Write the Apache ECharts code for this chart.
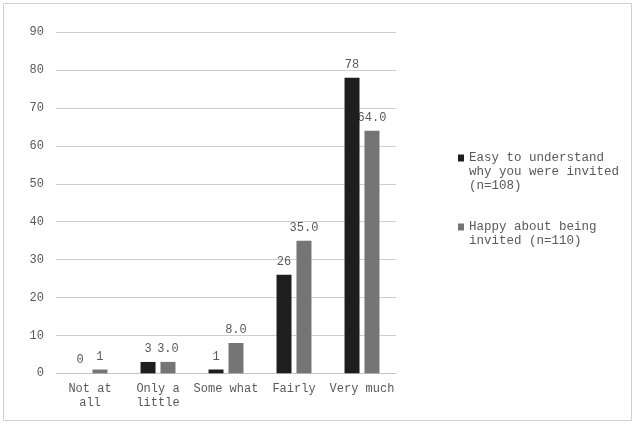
<!DOCTYPE html>
<html><head><meta charset="utf-8">
<script src="https://cdn.jsdelivr.net/npm/echarts@6/dist/echarts.min.js"></script>
<style>html,body{margin:0;padding:0;background:#fff}#c{width:634px;height:426px}</style>
</head><body><div id="c"></div>
<script>
const categories = ['Not at\nall', 'Only a\nlittle', 'Some what', 'Fairly', 'Very much'];
const seriesNames = ['Easy to understand\nwhy you were invited\n(n=108)', 'Happy about being\ninvited (n=110)'];
const easyValues = [0, 3, 1, 26, 78];
const happyValues = [1, 3, 8, 35, 64];
const easyLabels = ['0', '3', '1', '26', '78'];
const happyLabels = ['1', '3.0', '8.0', '35.0', '64.0'];
const yMin = 0, yMax = 90, yStep = 10;

const FONT = 'Liberation Mono';
const TXT = '#595959';
const chart = echarts.init(document.getElementById('c'));
chart.setOption({
  animation: false,
  textStyle: {fontFamily: FONT},
  graphic: [{type: 'rect', shape: {x: 3.5, y: 3.5, width: 628, height: 417}, style: {fill: 'none', stroke: '#d0d0d0', lineWidth: 1}}],
  grid: {left: 56, right: 238, top: 32.3, bottom: 52.7, containLabel: false},
  legend: {
    orient: 'vertical', left: 458, top: 123, padding: 0, itemGap: 13,
    icon: 'rect', itemWidth: 6, itemHeight: 7, selectedMode: false,
    textStyle: {fontFamily: FONT, fontSize: 12.5, color: TXT, lineHeight: 14},
    formatter: name => '\n'.repeat(name.split('\n').length - 1) + name,
    data: seriesNames
  },
  xAxis: {
    type: 'category', data: categories,
    axisTick: {show: false},
    axisLine: {lineStyle: {color: '#c4c4c4'}},
    axisLabel: {color: TXT, fontFamily: FONT, fontSize: 12, lineHeight: 14, margin: 9, interval: 0}
  },
  yAxis: {
    type: 'value', min: yMin, max: yMax, interval: yStep,
    axisLine: {show: false}, axisTick: {show: false},
    splitLine: {lineStyle: {color: '#cfcfcf'}},
    axisLabel: {color: TXT, fontFamily: FONT, fontSize: 12, margin: 12}
  },
  series: [
    {
      name: seriesNames[0], type: 'bar', data: easyValues, barWidth: 15, barGap: '33%', z: 3,
      itemStyle: {color: '#1e1e1e'},
      label: {show: true, position: 'top', distance: 7, color: TXT, fontFamily: FONT, fontSize: 12,
        formatter: p => easyLabels[p.dataIndex]}
    },
    {
      name: seriesNames[1], type: 'bar', data: happyValues, barWidth: 15, z: 2,
      itemStyle: {color: '#757575'},
      label: {show: true, position: 'top', distance: 7, color: TXT, fontFamily: FONT, fontSize: 12,
        formatter: p => happyLabels[p.dataIndex]}
    }
  ]
});
</script></body></html>
